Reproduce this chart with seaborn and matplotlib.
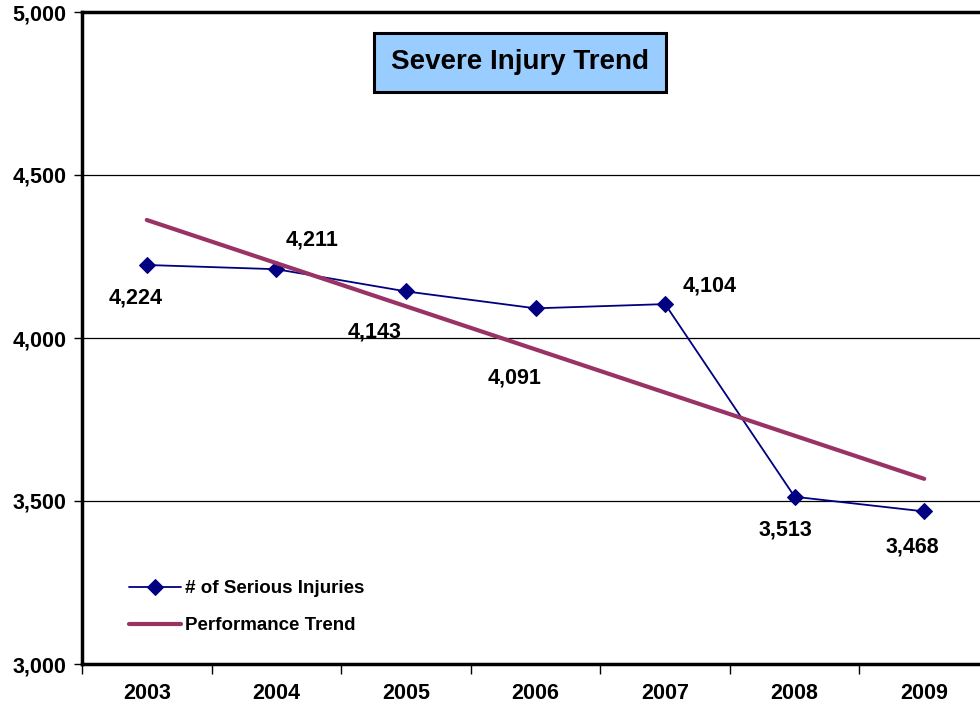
import pandas as pd
import seaborn as sns
import matplotlib.pyplot as plt

years = ['2003', '2004', '2005', '2006', '2007', '2008', '2009']
injuries = [4224, 4211, 4143, 4091, 4104, 3513, 3468]
trend_years = ['2003', '2009']
trend_values = [4362, 3568]
# where each value label sits relative to its marker (pixels)
label_offsets = [(-11, -33), (36, 29), (-31, -41), (-21, -70), (45, 18), (-9, -33), (-12, -36)]

sns.set_style('white')
plt.rcParams['font.family'] = ['Liberation Sans', 'DejaVu Sans']
plt.rcParams['font.weight'] = 'bold'
plt.rcParams['text.color'] = 'black'
plt.rcParams['xtick.color'] = 'black'
plt.rcParams['ytick.color'] = 'black'

df = pd.DataFrame({'year': years, 'injuries': injuries})
trend = pd.DataFrame({'year': trend_years, 'value': trend_values})

fig = plt.figure(figsize=(9.8, 7.15), dpi=100)
ax = fig.add_axes([82 / 980, 1 - 664 / 715, 907 / 980, 652 / 715])

sns.lineplot(data=df, x='year', y='injuries', ax=ax, color='#000080', linewidth=1.3,
             marker='D', markersize=8, markeredgecolor='#000080',
             label='# of Serious Injuries')
sns.lineplot(data=trend, x='year', y='value', ax=ax, color='#993366', linewidth=3,
             label='Performance Trend')

for i, (v, off) in enumerate(zip(injuries, label_offsets)):
    ax.annotate(f'{v:,}', xy=(i, v), xytext=off, textcoords='offset pixels',
                ha='center', va='center', fontsize=15.5, fontweight='bold', color='black')

ax.set_xlim(-0.5, 6.5)
ax.set_ylim(3000, 5000)
ax.set_yticks([3000, 3500, 4000, 4500, 5000])
ax.set_yticklabels([f'{t:,}' for t in [3000, 3500, 4000, 4500, 5000]], fontsize=15.5, fontweight='bold')
ax.set_xticks(range(len(years)))
ax.set_xticklabels(years, fontsize=15.5, fontweight='bold')
ax.set_xticks([i + 0.5 for i in range(-1, len(years))], minor=True)
ax.tick_params(axis='x', which='major', length=0, pad=14)
ax.tick_params(axis='x', which='minor', length=7, width=1, direction='out', bottom=True)
ax.tick_params(axis='y', length=6, width=1, direction='out', left=True, pad=5)
ax.set_xlabel('')
ax.set_ylabel('')

for y in [3500, 4000, 4500]:
    ax.axhline(y, color='black', linewidth=0.9, zorder=0)

for side in ['left', 'bottom', 'top']:
    ax.spines[side].set_linewidth(2.5)
    ax.spines[side].set_color('black')
ax.spines['right'].set_visible(False)

ax.text(0.483, 0.923, 'Severe Injury Trend', transform=ax.transAxes, ha='center', va='center',
        fontsize=20, fontweight='bold', color='black',
        bbox=dict(boxstyle='square,pad=0.6', facecolor='#99CCFF', edgecolor='black', linewidth=2.2))

ax.legend(loc='lower left', bbox_to_anchor=(0.033, 0.02), frameon=False,
          handlelength=2.8, handletextpad=0.2, labelspacing=1.05,
          prop={'weight': 'bold', 'size': 13.5})

fig.savefig('out.png', dpi=100)
